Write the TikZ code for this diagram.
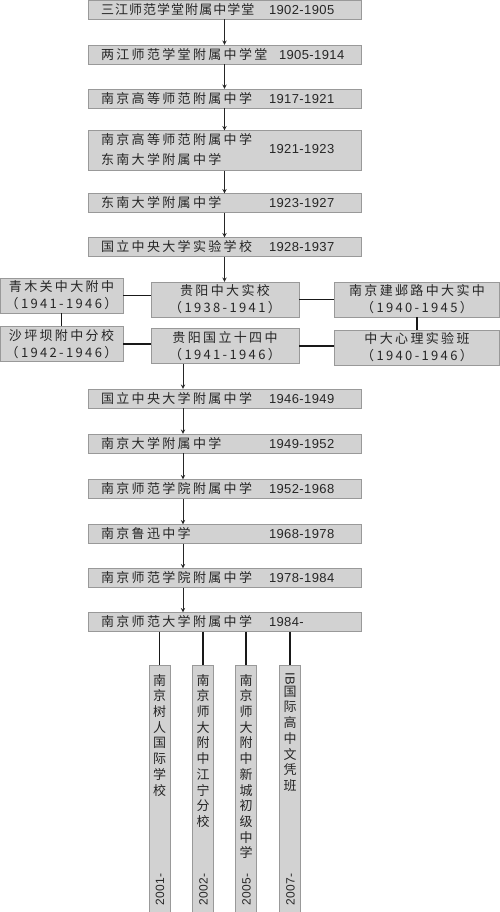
\documentclass[tikz,border=0pt]{standalone}
\usepackage{fontspec}
\usetikzlibrary{calc}
\newfontfamily\cjk[LetterSpace=18]{Noto Sans CJK SC}
\newfontfamily\yr[LetterSpace=3]{Liberation Sans}
\newcommand\schoolrow[3][168pt]{\makebox[247pt][l]{\makebox[#1][l]{\cjk #2}{\yr #3}}}

\begin{document}
\begin{tikzpicture}[x=1pt, y=-1pt, >=stealth,
		mainbox/.style={draw=gray!80, fill=gray!35, minimum width=273, minimum height=19, inner sep=0, text=black!85, font=\fontsize{13}{20}\selectfont},
		sidebox/.style={draw=gray!80, fill=gray!35, minimum height=35, inner sep=0, align=center, text=black!85, font=\cjk\fontsize{13}{17}\selectfont},
		branch/.style={draw=gray!80, fill=gray!35, minimum width=21, minimum height=250, inner sep=0, anchor=north},
		stack/.style={anchor=north, inner sep=0, align=center, text=black!85, font=\cjk\fontsize{13}{15.7}\selectfont},
		since/.style={anchor=west, rotate=90, inner sep=0, text=black!85, font=\yr\fontsize{12}{12}\selectfont},
		flow/.style={->, line width=0.9pt, black!85},
		link/.style={line width=1.3pt, black!90}]
	\useasboundingbox (0,0) rectangle (500,912);
	\fill[white] (0,0) rectangle (500,912);

	\node[mainbox] (B1)at(224.5, 9.5) {\schoolrow{\addfontfeature{LetterSpace=8}三江师范学堂附属中学堂}{1902-1905}};
	\node[mainbox] (B2)at(224.5, 54.5) {\schoolrow[178pt]{两江师范学堂附属中学堂}{1905-1914}};
	\node[mainbox] (B3)at(224.5, 98.5) {\schoolrow{南京高等师范附属中学}{1917-1921}};
	\node[mainbox, minimum height=35] (B4)at(224.5, 150.5) {\schoolrow{\begin{tabular}[c]{@{}l@{}}南京高等师范附属中学\\东南大学附属中学\end{tabular}}{1921-1923}};
	\node[mainbox] (B5)at(224.5, 203) {\schoolrow{东南大学附属中学}{1923-1927}};
	\node[mainbox] (B6)at(224.5, 247) {\schoolrow{国立中央大学实验学校}{1928-1937}};

	\node[sidebox, minimum width=148] (G1)at(225, 299.5) {贵阳中大实校\\（1938-1941）};
	\node[sidebox, minimum width=123] (L1)at(61.5, 295.5) {青木关中大附中\\（1941-1946）};
	\node[sidebox, minimum width=165] (R1)at(417, 299.5) {南京建邺路中大实中\\（1940-1945）};
	\node[sidebox, minimum width=148] (G2)at(225, 346) {贵阳国立十四中\\（1941-1946）};
	\node[sidebox, minimum width=123] (L2)at(61.5, 344) {沙坪坝附中分校\\（1942-1946）};
	\node[sidebox, minimum width=165] (R2)at(417, 347.5) {中大心理实验班\\（1940-1946）};

	\node[mainbox] (B7)at(224.5, 398.5) {\schoolrow{国立中央大学附属中学}{1946-1949}};
	\node[mainbox] (B8)at(224.5, 443.5) {\schoolrow{南京大学附属中学}{1949-1952}};
	\node[mainbox] (B9)at(224.5, 489) {\schoolrow{南京师范学院附属中学}{1952-1968}};
	\node[mainbox] (B10)at(224.5, 534) {\schoolrow{南京鲁迅中学}{1968-1978}};
	\node[mainbox] (B11)at(224.5, 578) {\schoolrow{南京师范学院附属中学}{1978-1984}};
	\node[mainbox] (B12)at(224.5, 622) {\schoolrow{南京师范大学附属中学}{1984-}};

	\node[branch] (V1)at(159.5, 665) {};
	\node[branch] (V2)at(203, 665) {};
	\node[branch] (V3)at(246, 665) {};
	\node[branch] (V4)at(290, 665) {};
	\node[stack] (V1n)at(159.5, 674) {南\\京\\树\\人\\国\\际\\学\\校};
	\node[stack] (V2n)at(203, 674) {南\\京\\师\\大\\附\\中\\江\\宁\\分\\校};
	\node[stack] (V3n)at(246, 674) {南\\京\\师\\大\\附\\中\\新\\城\\初\\级\\中\\学};
	\node[stack] (V4n)at(290, 672) {\rotatebox{-90}{\yr IB}\\国\\际\\高\\中\\文\\凭\\班};
	\node[since] (V1y)at(160, 906) {2001-};
	\node[since] (V2y)at(203.5, 906) {2002-};
	\node[since] (V3y)at(246.5, 906) {2005-};
	\node[since] (V4y)at(290.5, 906) {2007-};

	\coordinate (ax)at(183, 0);
	\draw[flow] (B1) -- (B2);
	\draw[flow] (B2) -- (B3);
	\draw[flow] (B3) -- (B4);
	\draw[flow] (B4) -- (B5);
	\draw[flow] (B5) -- (B6);
	\draw[flow] (B6.south) -- (G1.north -| B6.south);
	\draw[flow] (G2.south -| ax) -- (B7.north -| ax);
	\draw[flow] (B7.south -| ax) -- (B8.north -| ax);
	\draw[flow] (B8.south -| ax) -- (B9.north -| ax);
	\draw[flow] (B9.south -| ax) -- (B10.north -| ax);
	\draw[flow] (B10.south -| ax) -- (B11.north -| ax);
	\draw[flow] (B11.south -| ax) -- (B12.north -| ax);

	\draw[link] (L1.east) -- (L1.east -| G1.west);
	\draw[link] (G1.east) -- (G1.east -| R1.west);
	\draw[link] (L2.east) -- (L2.east -| G2.west);
	\draw[link] (G2.east) -- (G2.east -| R2.west);
	\draw[link] (L1.south) -- (L2.north);
	\draw[link] (R1.south) -- (R2.north);

	\draw[link] (B12.south -| V1.north) -- (V1.north);
	\draw[link] (B12.south -| V2.north) -- (V2.north);
	\draw[link] (B12.south -| V3.north) -- (V3.north);
	\draw[link] (B12.south -| V4.north) -- (V4.north);
\end{tikzpicture}
\end{document}
